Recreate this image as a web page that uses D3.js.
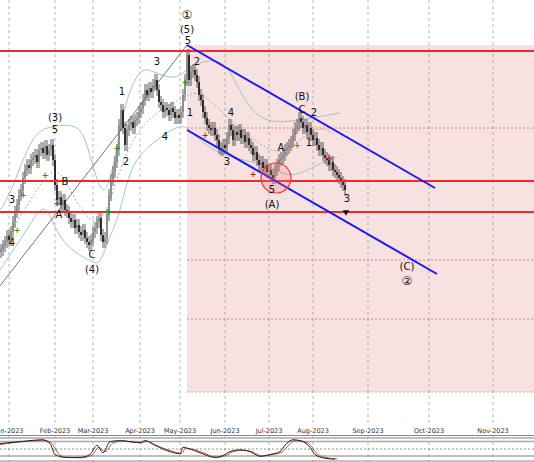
<!DOCTYPE html>
<html><head><meta charset="utf-8">
<script src="https://cdn.jsdelivr.net/npm/d3@7"></script>
<style>body{margin:0;background:#fff}svg{display:block;font-family:"DejaVu Sans",sans-serif}</style>
</head><body>
<script>
const width = 534, height = 462;

// daily closes, one per weekday starting 26 Dec 2022
const closes = [248,250,254,258,264,260,268,278,288,295,305,310,322,330,335,332,340,342,345,338,350,352,347,354,345,350,355,340,315,300,303,295,300,290,288,282,278,280,272,275,268,265,270,262,258,255,260,268,272,278,282,265,258,262,285,305,320,328,338,350,375,390,372,355,370,375,378,372,380,382,388,392,400,410,405,412,408,415,420,410,398,395,388,392,390,385,392,388,382,385,382,388,405,420,445,420,428,430,425,418,405,400,388,382,375,372,370,372,365,360,352,350,355,352,362,375,370,360,368,365,370,362,365,358,362,355,352,345,348,340,335,338,332,335,328,330,325,322,330,335,340,342,345,350,352,355,358,365,372,375,382,378,372,375,368,372,365,360,362,355,350,352,345,342,340,335,338,330,328,325,322,318,315,310];

const bandUpper = [[0.5,290],[5.5,305],[15.5,360],[22,372],[30.5,375],[38,375],[43,365],[48,325],[53,300],[58,340],[63,400],[70.5,432],[75.5,430],[83,423],[90.5,422],[95.5,435],[105.5,440],[113,438],[119,415],[129,378],[145.5,378],[155.5,382],[170.5,387]];
const bandLower = [[0.5,230],[5.5,245],[15.5,275],[23,300],[28,270],[35.5,250],[46.5,238],[50.5,235],[54.5,260],[60.5,285],[65.5,335],[75.5,355],[85.5,370],[92,375],[95.5,370],[105.5,350],[120.5,340],[135.5,335],[145.5,320],[160.5,337],[169,343]];
const bandMid = [[0.5,250],[15.5,300],[25.5,330],[30.5,330],[38,300],[48,270],[55.5,295],[63,350],[75.5,385],[90.5,400],[98,410],[105.5,400],[115.5,380],[130.5,355],[140.5,345],[150.5,360],[160.5,375],[168,365]];

const oscBlack = [[0.5,75],[5.5,79],[15.5,88],[21.5,92],[25.5,75],[28,25],[33,12],[40.5,12],[45.5,25],[49,67],[52,33],[55.5,83],[60.5,88],[70.5,79],[73,88],[78,67],[85.5,38],[90.5,29],[92,58],[95.5,50],[100.5,33],[108,12],[113,25],[115.5,38],[120.5,46],[125.5,38],[130.5,17],[135.5,25],[140.5,38],[143,67],[147,92],[150.5,88],[155.5,58],[158,25],[163,8],[168,4]];
const oscRed = [[0.5,70],[5.5,77],[15.5,86],[22.5,90],[27,70],[30,25],[34,12],[41,10],[46.5,22],[50,58],[53,38],[57,78],[61.5,86],[71.5,78],[74,85],[79,65],[86.5,40],[91.5,30],[93,52],[96.5,50],[101.5,35],[109,12],[114,22],[116.5,36],[121.5,44],[126.5,38],[131.5,18],[136.5,24],[141.5,36],[144,60],[148,88],[151.5,86],[156.5,60],[159,28],[164,10],[169,5]];

const redLevels = [449, 319, 288];
const dashLevels = [372, 240, 181];
const boxTop = 455, boxBottom = 108, boxStart = 94;
const channelUpper = [[94,455],[218,312]];
const channelLower = [[94,370],[219,226]];
const trendLine = [[-5,200],[94,455]];
const circle = [138.5, 322];

const monthLabels = ["Jan-2023","Feb-2023","Mar-2023","Apr-2023","May-2023","Jun-2023","Jul-2023","Aug-2023","Sep-2023","Oct-2023","Nov-2023"];
const monthSlots = [5,28,47,70.5,90.5,113,135,157,184.5,215,247];

const waveLabels = [
  ["4",6.5,257],["3",6.5,300],["(3)",28,382],["5",28,370],["B",33,318],["A",30,285],
  ["C",46.5,245],["(4)",46.5,230],["1",61.5,408],["2",63.5,338],["3",79,438],["4",83,363],
  ["①",94,485],["(5)",94,470],["5",94.5,459],["2",99,438],["1",95.5,387],["4",116,387],
  ["3",114,338],["A",141,352],["5",136.5,310],["(A)",136.5,295],["(B)",151.5,403],["C",151.5,390],
  ["2",157.5,387],["1",155,357],["3",174,301],["(C)",204,233],["②",204,219]
];
const greenPlus = [[9,270],[12,305],[23,325],[54.5,288],[59,352],[93,418],[149,355]];
const redPlus = [[29,297],[103,365],[127,326],[165,342]];

const x = d3.scaleLinear().domain([0, 267.5]).range([-1, 534]);
const y = d3.scaleLinear().domain([500, 65]).range([0, 435]);
const yo = d3.scaleLinear().domain([0, 100]).range([460, 438]);

const svg = d3.select("body").append("svg").attr("width", width).attr("height", height);

// pink projection box
svg.append("rect").attr("x", x(boxStart)).attr("y", y(boxTop))
  .attr("width", width - x(boxStart)).attr("height", y(boxBottom) - y(boxTop))
  .attr("fill", "#f8e1e1");
svg.append("line").attr("x1", x(boxStart)).attr("x2", width).attr("y1", y(boxBottom)).attr("y2", y(boxBottom))
  .attr("stroke", "#e08080").attr("stroke-dasharray", "2,2").attr("stroke-width", 0.8);
svg.selectAll(".dl").data(dashLevels).join("line")
  .attr("x1", x(boxStart)).attr("x2", width).attr("y1", d => y(d)).attr("y2", d => y(d))
  .attr("stroke", "#e06060").attr("stroke-dasharray", "2,2").attr("stroke-width", 0.8);

// month gridlines
svg.selectAll(".grid").data(monthSlots).join("line")
  .attr("x1", d => x(d)).attr("x2", d => x(d)).attr("y1", 0).attr("y2", height)
  .attr("stroke", "#888").attr("stroke-dasharray", "3,3").attr("stroke-width", 0.6);

// bands
const bandLine = d3.line().x(d => x(d[0])).y(d => y(d[1])).curve(d3.curveBasis);
[bandUpper, bandLower].forEach(b => svg.append("path").attr("d", bandLine(b))
  .attr("fill", "none").attr("stroke", "#9cc7c7").attr("stroke-width", 1));
svg.append("path").attr("d", bandLine(bandMid)).attr("fill", "none")
  .attr("stroke", "#888").attr("stroke-dasharray", "2,2").attr("stroke-width", 0.7);

// trend line
svg.append("line").attr("x1", x(trendLine[0][0])).attr("y1", y(trendLine[0][1]))
  .attr("x2", x(trendLine[1][0])).attr("y2", y(trendLine[1][1])).attr("stroke", "#666").attr("stroke-width", 0.9);

// candles
const candles = closes.map((c, i) => ({ i, o: i ? closes[i - 1] : c, c }));
const wick = 6;
const cg = svg.append("g");
cg.selectAll("line").data(candles).join("line")
  .attr("x1", d => x(d.i)).attr("x2", d => x(d.i))
  .attr("y1", d => y(Math.max(d.o, d.c) + wick)).attr("y2", d => y(Math.min(d.o, d.c) - wick))
  .attr("stroke", "#333").attr("stroke-width", 0.8);
cg.selectAll("rect").data(candles).join("rect")
  .attr("x", d => x(d.i) - 0.8).attr("width", 1.6)
  .attr("y", d => y(Math.max(d.o, d.c))).attr("height", d => Math.max(1, Math.abs(y(d.o) - y(d.c))))
  .attr("fill", d => d.c >= d.o ? "#888" : "#111");

// red levels
svg.selectAll(".rl").data(redLevels).join("line")
  .attr("x1", 0).attr("x2", width).attr("y1", d => y(d)).attr("y2", d => y(d))
  .attr("stroke", "#ee2a2a").attr("stroke-width", 2);

// channel
[channelUpper, channelLower].forEach(c => svg.append("line")
  .attr("x1", x(c[0][0])).attr("y1", y(c[0][1])).attr("x2", x(c[1][0])).attr("y2", y(c[1][1]))
  .attr("stroke", "#1a1aee").attr("stroke-width", 2));

// circle
svg.append("circle").attr("cx", x(circle[0])).attr("cy", y(circle[1])).attr("r", 15)
  .attr("fill", "rgba(255,120,120,0.25)").attr("stroke", "#ee3030").attr("stroke-width", 1.2);

// plus markers
const plus = (data, col) => data.forEach(d => svg.append("text").attr("x", x(d[0])).attr("y", y(d[1]))
  .attr("text-anchor", "middle").attr("dominant-baseline", "middle").attr("font-size", 8)
  .attr("font-weight", "bold").attr("fill", col).text("+"));
plus(greenPlus, "#1a9a1a");
plus(redPlus, "#c02020");

// arrow at last candle
const last = closes.length - 1;
svg.append("path").attr("d", d3.symbol(d3.symbolTriangle, 18)())
  .attr("transform", `translate(${x(last + 0.5)},${y(closes[last] - 22)}) rotate(180)`).attr("fill", "#111");

// wave labels
svg.selectAll(".wl").data(waveLabels).join("text")
  .attr("x", d => x(d[1])).attr("y", d => y(d[2]))
  .attr("text-anchor", "middle").attr("dominant-baseline", "middle")
  .attr("font-size", d => /[①②]/.test(d[0]) ? 12 : 10).attr("fill", "#111").text(d => d[0]);

// time axis
svg.append("rect").attr("x", 0).attr("y", 426).attr("width", width).attr("height", 10).attr("fill", "#fff");
svg.selectAll(".ml").data(monthSlots).join("text")
  .attr("x", d => x(d)).attr("y", 431).attr("text-anchor", "middle").attr("dominant-baseline", "middle")
  .attr("font-size", 6.5).attr("fill", "#333").text((d, i) => monthLabels[i]);

// oscillator panel
svg.append("rect").attr("x", 0).attr("y", 436).attr("width", width).attr("height", 26).attr("fill", "#fff");
svg.selectAll(".mg").data(monthSlots).join("line")
  .attr("x1", d => x(d)).attr("x2", d => x(d)).attr("y1", 436).attr("y2", height)
  .attr("stroke", "#888").attr("stroke-dasharray", "3,3").attr("stroke-width", 0.6);
[[435.5, "#888", 1], [438, "#aaa", 1.5], [441.5, "#aaa", 1.5], [456, "#aaa", 1.5], [461, "#888", 1]].forEach(l =>
  svg.append("line").attr("x1", 0).attr("x2", width).attr("y1", l[0]).attr("y2", l[0])
    .attr("stroke", l[1]).attr("stroke-width", l[2]));
svg.append("line").attr("x1", 0).attr("x2", width).attr("y1", yo(50)).attr("y2", yo(50))
  .attr("stroke", "#666").attr("stroke-dasharray", "2,2").attr("stroke-width", 0.7);
const oscLine = d3.line().x(d => x(d[0])).y(d => yo(d[1])).curve(d3.curveMonotoneX);
svg.append("path").attr("d", oscLine(oscRed)).attr("fill", "none").attr("stroke", "#d05050").attr("stroke-width", 1);
svg.append("path").attr("d", oscLine(oscBlack)).attr("fill", "none").attr("stroke", "#222").attr("stroke-width", 1);
</script>
</body></html>
